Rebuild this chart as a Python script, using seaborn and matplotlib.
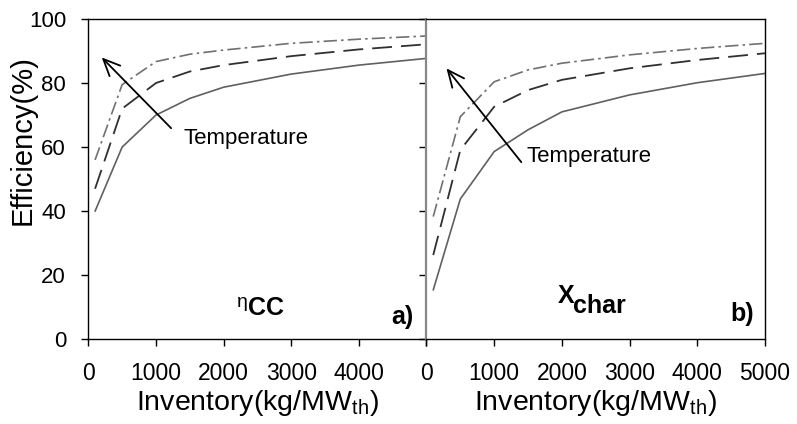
import numpy as np
import pandas as pd
import matplotlib
matplotlib.use("Agg")
import matplotlib.pyplot as plt
import seaborn as sns

# ---- data ----
inventory = [100, 500, 1000, 1500, 2000, 3000, 4000, 5000]
eta_low = [40, 60, 70, 75.2, 78.7, 82.8, 85.6, 87.7]
eta_mid = [47, 72, 80, 83.6, 85.6, 88.4, 90.5, 92.1]
eta_high = [56, 79.5, 86.7, 89.0, 90.3, 92.4, 93.7, 94.7]
x_low = [15.4, 43.8, 58.6, 65.4, 71.0, 76.3, 80.1, 83.0]
x_mid = [26.3, 59.1, 72.6, 77.8, 81.0, 84.6, 87.2, 89.3]
x_high = [38.3, 69.5, 80.4, 84.1, 86.2, 88.8, 90.8, 92.4]
xticks = [0, 1000, 2000, 3000, 4000, 5000]
yticks = [0, 20, 40, 60, 80, 100]

sns.set_theme(style="white")
plt.rcParams['font.family'] = ['Liberation Sans', 'DejaVu Sans']
plt.rcParams['mathtext.fontset'] = 'custom'
plt.rcParams['mathtext.rm'] = 'Liberation Sans'
plt.rcParams['mathtext.bf'] = 'Liberation Sans:bold'
plt.rcParams['text.color'] = 'black'
plt.rcParams['axes.labelcolor'] = 'black'
plt.rcParams['xtick.color'] = 'black'
plt.rcParams['ytick.color'] = 'black'

fig = plt.figure(figsize=(7.97, 4.24), dpi=100)
fig.patch.set_facecolor('white')
axL = fig.add_axes([0.1108, 0.1998, 0.4243, 0.7554])
axR = fig.add_axes([0.5351, 0.1998, 0.4247, 0.7554])

styles = [
    dict(color='#606060', linestyle='-', lw=1.2),
    dict(color='#303030', linestyle=(0, (11, 5)), lw=1.3),
    dict(color='#707070', linestyle=(0, (8, 2.5, 1.5, 2.5)), lw=1.2),
]

for ax, series in [(axL, [eta_low, eta_mid, eta_high]), (axR, [x_low, x_mid, x_high])]:
    for vals, st in zip(series, styles):
        sns.lineplot(x=inventory, y=vals, ax=ax, color=st['color'],
                     linestyle=st['linestyle'], linewidth=st['lw'])
    ax.set_xlim(0, 5000)
    ax.set_ylim(0, 100)
    ax.set_xticks(xticks)
    ax.set_yticks(yticks)
    ax.set_facecolor('white')
    ax.grid(False)
    for s in ax.spines.values():
        s.set_color('black')
        s.set_linewidth(1.0)
    ax.tick_params(axis='both', direction='out', length=5, width=1, color='black',
                   labelcolor='black', bottom=True, left=True, pad=11)
    ax.tick_params(axis='x', labelsize=16.5)
    ax.tick_params(axis='y', labelsize=16)
    ax.text(0.5, -0.221, r'Inventory(kg/MW$_{\mathregular{th}}$)', transform=ax.transAxes,
            ha='center', va='baseline', fontsize=20.5, color='black')

axL.set_xticklabels(['0', '1000', '2000', '3000', '4000', ''])
axR.set_xticklabels([str(t) for t in xticks])
axL.set_yticklabels([str(t) for t in yticks])
axR.set_yticklabels([])
axL.spines['right'].set_visible(False)
axR.spines['left'].set_color('#888888')
axR.spines['left'].set_linewidth(1.6)

fig.text(23 / 797, 1 - 140 / 424, 'Efficiency(%)', rotation=90, ha='center', va='center',
         fontsize=21, color='black')

arrow = dict(arrowstyle='->,head_length=1.0,head_width=0.45', color='black', lw=1.3,
             shrinkA=0, shrinkB=0)
axL.annotate('', xy=(198, 88), xytext=(1225, 65.9), arrowprops=arrow)
axL.text(1410, 62.8, 'Temperature', fontsize=16, ha='left', va='center', color='black')
axR.annotate('', xy=(295, 84.6), xytext=(1401, 55.3), arrowprops=arrow)
axR.text(1475, 57, 'Temperature', fontsize=16, ha='left', va='center', color='black')

axL.text(2203, 14.0, 'η', fontsize=14, ha='left', va='top', color='black')
axL.text(2366, 7.6, 'CC', fontsize=18, fontweight='bold', ha='left', va='baseline', color='black')
axL.text(4810, 4.8, 'a)', fontsize=18, fontweight='bold', ha='right', va='baseline', color='black')

axR.text(1947, 11.3, 'X', fontsize=18, fontweight='bold', ha='left', va='baseline', color='black')
axR.text(2168, 8.2, 'char', fontsize=18, fontweight='bold', ha='left', va='baseline', color='black')
axR.text(4838, 5.6, 'b)', fontsize=18, fontweight='bold', ha='right', va='baseline', color='black')

fig.savefig('out.png', dpi=100, facecolor='white')
